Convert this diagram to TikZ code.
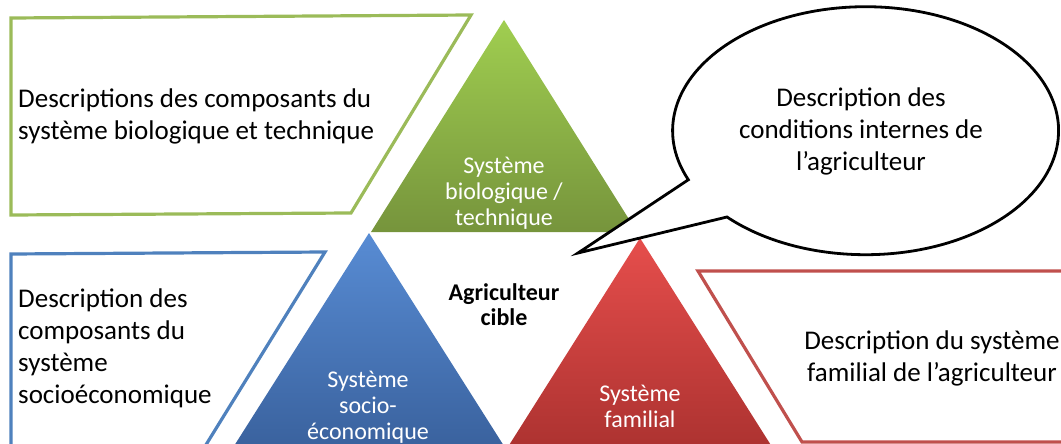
\documentclass[tikz,border=0pt]{standalone}
\usepackage{fontspec}
\setmainfont{Carlito}
\definecolor{biogreen}{RGB}{155,187,89}
\definecolor{socblue}{RGB}{79,129,189}
\definecolor{famred}{RGB}{192,80,77}
\definecolor{biotop}{RGB}{160,206,80}
\definecolor{biobot}{RGB}{118,148,60}
\definecolor{soctop}{RGB}{88,140,212}
\definecolor{socbot}{RGB}{58,98,158}
\definecolor{famtop}{RGB}{230,78,76}
\definecolor{fambot}{RGB}{172,50,48}
\begin{document}
\begin{tikzpicture}[x=1pt,y=-1pt,
  desc/.style={font=\fontsize{27}{32}\selectfont,inner sep=0pt},
  systxt/.style={font=\fontsize{24}{26}\selectfont,text=white,align=center,inner sep=0pt},
  frame/.style={line width=3.2pt,line join=miter}]
  \useasboundingbox (0,0) rectangle (1061,444);
  \begin{scope}
    \clip (0,0) rectangle (1061,444);
    % description frames
    \draw[frame,draw=biogreen] (11,18) -- (471,15) -- (351,213) -- (11,215) -- cycle;
    \draw[frame,draw=socblue] (11,254) -- (325,252) -- (204,448) -- (11,448) -- cycle;
    \draw[frame,draw=famred] (698,271) -- (1075,271) -- (1075,442) -- (802,442) -- cycle;
    % the three systems
    \shade[top color=biotop,bottom color=biobot]
      (504,20) -- (637,232) -- (371,232) -- cycle;
    \shade[top color=soctop,bottom color=socbot]
      (369,233) -- (504,446) -- (234,446) -- cycle;
    \shade[top color=famtop,bottom color=fambot]
      (640,238) -- (774,450) -- (506,450) -- cycle;
  \end{scope}
  \node[desc,anchor=west,align=left] (bioDesc) at (18,116)
    {Descriptions des composants du\\système biologique et technique};
  \node[desc,anchor=west,align=left] (socDesc) at (18,348)
    {Description des\\composants du\\système\\socioéconomique};
  \node[desc,align=center] (famDesc) at (932,358)
    {Description du système\\familial de l’agriculteur};
  \node[systxt] (bioSys) at (504,193) {Système\\biologique /\\technique};
  \node[systxt] (socSys) at (368,407) {Système\\socio-\\économique};
  \node[systxt] (famSys) at (640,406) {Système\\familial};
  \node[font=\fontsize{24}{25}\selectfont\bfseries,align=center,inner sep=0pt]
    (farmer) at (504,305) {Agriculteur\\cible};
  % speech bubble
  \draw[line width=2.8pt,fill=white,line join=miter]
    (727,217) arc[start angle=224.1,end angle=563.3,x radius=193pt,y radius=124pt]
    -- (578,253) -- cycle;
  \node[desc,align=center] (inner) at (861,131)
    {Description des\\conditions internes de\\l’agriculteur};
\end{tikzpicture}
\end{document}
